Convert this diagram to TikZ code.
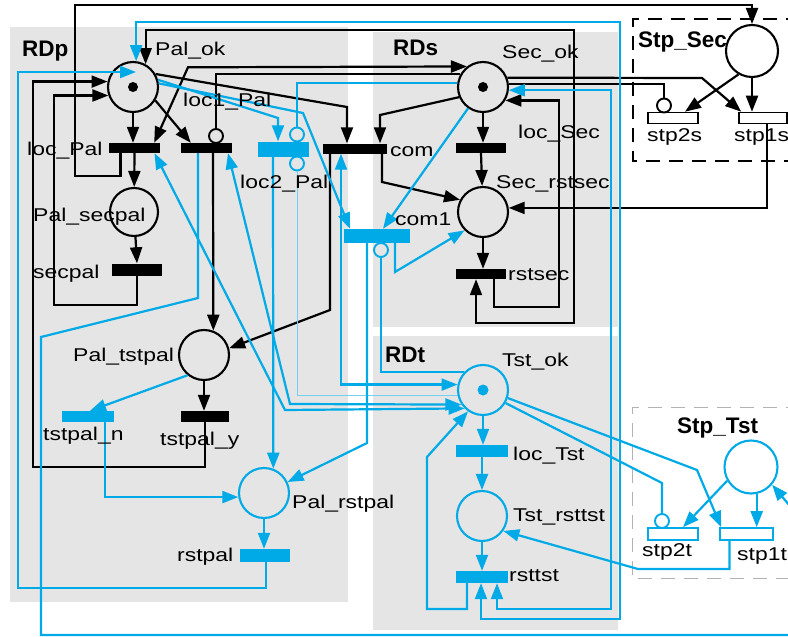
\documentclass[tikz,border=0pt]{standalone}
\usepackage{fontspec}
\setmainfont{Liberation Sans}
\newfontfamily\netfont{Liberation Sans}[FakeStretch=1.24]
\usetikzlibrary{arrows.meta,calc}
\definecolor{netblue}{RGB}{0,170,230}
\definecolor{zonegray}{RGB}{229,229,229}
\tikzset{
  place/.style={circle, draw, line width=2.1pt, minimum size=50pt, inner sep=0pt},
  bar/.style={rectangle, fill, inner sep=0pt, minimum width=51pt, minimum height=10pt},
  stpbar/.style={rectangle, draw, fill=white, line width=1.6pt, inner sep=0pt, minimum width=50pt, minimum height=11pt},
  inhib/.style={circle, draw, line width=1.9pt, minimum size=14pt, inner sep=0pt},
  lbl/.style={anchor=base west, inner sep=0pt, font=\netfont\fontsize{18.5}{20}\selectfont},
  zone/.style={anchor=base west, inner sep=0pt, font=\bfseries\fontsize{22.5}{24}\selectfont},
  arc/.style={line width=2.2pt},
  barc/.style={line width=2.2pt, draw=netblue},
  thinblue/.style={line width=0.9pt, draw=netblue!55},
}
\begin{document}
\begin{tikzpicture}[x=1pt, y=-1pt, >={Triangle[length=16pt,width=12pt]}]
  \useasboundingbox (0,0) rectangle (788,637);

  % zones
  \fill[zonegray] (10,27) rectangle (348,602);
  \fill[zonegray] (373,32) rectangle (618,327);
  \fill[zonegray] (373,336) rectangle (618,630);
  \draw[line width=2.2pt, dash pattern=on 14pt off 9pt] (800,19) -- (633,19) -- (633,161) -- (800,161);
  \draw[gray!60, line width=0.9pt, dash pattern=on 14pt off 9pt] (800,407) -- (632,407) -- (632,578) -- (800,578);

  % places
  \node[place] (palok) at (133,87) {};
  \node[place] (secok) at (483,87) {};
  \node[place, minimum size=52pt] (stpsecp) at (752,51) {};
  \node[place, minimum size=48pt] (palsecpal) at (134,212) {};
  \node[place] (secrstsec) at (483,212) {};
  \node[place] (paltstpal) at (204,355) {};
  \node[place, draw=netblue] (tstok) at (483,390) {};
  \node[place, draw=netblue] (palrstpal) at (264,493) {};
  \node[place, draw=netblue] (tstrsttst) at (482,516) {};
  \node[place, draw=netblue, minimum size=53pt] (stptstp) at (751,467) {};

  % tokens
  \fill (palok) circle (5pt);
  \fill (secok) circle (5pt);
  \fill[netblue] (tstok) circle (5.5pt);

  % transitions
  \node[bar] (locpal) at (134.5,148) {};
  \node[bar] (loc1pal) at (206.5,148) {};
  \node[bar, fill=netblue, minimum height=15pt] (loc2pal) at (283.5,149) {};
  \node[bar, minimum width=64pt] (com) at (355,148.5) {};
  \node[bar, minimum width=50pt] (locsec) at (481,148) {};
  \node[bar, minimum width=50pt, minimum height=12pt] (secpal) at (137,269.5) {};
  \node[bar, fill=netblue, minimum width=66pt, minimum height=14pt] (com1) at (377,236) {};
  \node[bar, minimum width=50pt] (rstsec) at (481,274) {};
  \node[bar, fill=netblue, minimum width=52pt, minimum height=11pt] (tstpaln) at (88,416.5) {};
  \node[bar, minimum width=48pt, minimum height=11pt] (tstpaly) at (205,416.5) {};
  \node[bar, fill=netblue, minimum width=50pt, minimum height=13pt] (rstpal) at (265,555.5) {};
  \node[bar, fill=netblue, minimum width=52pt, minimum height=12pt] (loctst) at (482,451) {};
  \node[bar, fill=netblue, minimum width=52pt, minimum height=12pt] (rsttst) at (482,577) {};
  \node[stpbar] (stp2s) at (673,118) {};
  \node[stpbar, minimum width=48pt] (stp1s) at (763,118) {};
  \node[stpbar, draw=netblue, minimum height=12pt] (stp2t) at (673,534) {};
  \node[stpbar, draw=netblue, minimum width=53pt, minimum height=12pt] (stp1t) at (746.5,534) {};

  % inhibitor ends
  \node[inhib] (inhl1) at (216,136) {};
  \node[inhib, draw=netblue] (inhl2a) at (297,134.5) {};
  \node[inhib, draw=netblue] (inhl2b) at (297,163.5) {};
  \node[inhib, draw=netblue] (inhc1) at (381,250) {};
  \node[inhib] (inhs2) at (664,105.5) {};
  \node[inhib, draw=netblue] (inht2) at (662,521) {};

  % black arcs
  \draw[arc,->] (palok) -- (palok |- locpal.north);
  \draw[arc,->] (locpal.south) -- (palsecpal);
  \draw[arc,->] (palsecpal) -- (secpal.north);
  \draw[arc,->] (secpal.south) |- (54,305) |- (palok.199);
  \draw[arc,->] (tstpaly.south) |- (33,467) |- (palok.168);
  \draw[arc,->] ([xshift=-14pt]locpal.south) |- (75,176) -- (75,5) -| (stpsecp.north);
  \draw[arc,->] (palok.-31) -- ([xshift=10pt]loc1pal.north west);
  \draw[arc,<->] ([xshift=-6pt]locpal.north east) -- (188,67.3) -- (secok.128);
  \draw[arc] (secok.151) -| (inhl1.north);
  \draw[arc,->] (palok.30) -- (347,107) -- ([xshift=-8pt]com.north);
  \draw[arc,->] (secok.203) -- (380,115) -- ([xshift=25pt]com.north);
  \draw[arc,->] ([xshift=27pt]com.south) -- (382,182) -- (secrstsec.152);
  \draw[arc,->] ([xshift=-25pt]com.south) -- (330,310) -- (paltstpal.15);
  \draw[arc,->] ([xshift=6.5pt]loc1pal.south) -- (paltstpal.69);
  \draw[arc,->] (paltstpal) -- (paltstpal |- tstpaly.north);
  \draw[arc,->] (secok) -- (secok |- locsec.north);
  \draw[arc,->] (locsec.south) -- (secrstsec);
  \draw[arc,->] (secrstsec) -- (secrstsec |- rstsec.north);
  \draw[arc,->] ([xshift=13pt]rstsec.south) |- (559,307) |- (secok.-31);
  \draw[arc,<->] (palok.61) |- (574,30) |- (476,323) -- ([xshift=-5pt]rstsec.south);
  \draw[arc,->] (secok.21) -- (702,78) -- ([xshift=3pt]stp1s.north west);
  \draw[arc] (secok.7) -| (inhs2.north);
  \draw[arc,->] (stpsecp.240) -- ([xshift=12pt]stp2s.north);
  \draw[arc,->] (stpsecp) -- (stpsecp |- stp1s.north);
  \draw[arc,->] ([xshift=4pt]stp1s.south) |- (secrstsec.9);

  % blue arcs
  \draw[barc,->] (palok.16) -- (278,118) -- ([xshift=-5.5pt]loc2pal.north);
  \draw[barc,->] (palok.8) -- (303,113) -- ([xshift=-27pt]com1.north);
  \draw[barc] (secok.171) -| (inhl2a.north);
  \draw[thinblue] (inhl2b.south) |- (tstok.191);
  \draw[barc,->] ([xshift=-10.5pt]loc2pal.south) -- (palrstpal.69);
  \draw[barc,->] (secok.235) -- ([xshift=6pt]com1.north);
  \draw[barc] (inhc1.south) |- (tstok.137);
  \draw[barc,->] ([xshift=-10pt]com1.south) -- (367,443) -- (palrstpal.25);
  \draw[barc,->] ([xshift=18pt]com1.south) -- (395,272) -- (secrstsec.225);
  \draw[barc,<->] ([xshift=-14pt]com.south) |- (tstok.168);
  \draw[barc,<->] ([xshift=21.5pt]loc1pal.south) -- (290,404) -- (tstok.214);
  \draw[barc,<->] ([xshift=20pt]locpal.south) -- (285,410) -- (tstok.225);
  \draw[barc,->] ([xshift=-15pt]rsttst.south) |- (427,609) -- (427,457) -- (tstok.235);
  \draw[barc,<->] (palok.83) |- (620,22) |- (481,619) -- ([xshift=-1pt]rsttst.south);
  \draw[barc,<->] (secok.-7) -| (611,609) -| ([xshift=15pt]rsttst.south);
  \draw[barc,->] (tstok) -- (tstok |- loctst.north);
  \draw[barc,->] (loctst.south) -- (tstrsttst);
  \draw[barc,->] (tstrsttst) -- (tstrsttst |- rsttst.north);
  \draw[barc,->] (tstok.-18) -- (697,470) -- ([xshift=2pt]stp1t.north west);
  \draw[barc] (tstok.-30) -- (662,483) -- (inht2.north);
  \draw[barc,->] (stptstp.210) -- ([xshift=10pt]stp2t.north);
  \draw[barc,->] (stptstp.-78) -- (stptstp.-78 |- stp1t.north);
  \draw[barc,->] ([xshift=-17pt]stp1t.south) |- (638,569) -- (tstrsttst.-35);
  \draw[barc,->] ([xshift=-8.5pt]loc1pal.south) -- (198,298) -- (41,337) -- (41,635) -- (795,635) -- (795,512) -- (stptstp.-40);
  \draw[barc,->] (paltstpal.231) -- ([xshift=2pt]tstpaln.north);
  \draw[barc,->] ([xshift=17pt]tstpaln.south) |- (palrstpal.189);
  \draw[barc,->] (palrstpal) -- (palrstpal |- rstpal.north);
  \draw[barc,->] ([xshift=1pt]rstpal.south) |- (18,588) |- ($(palok.center)+(3,-15)$);

  % labels
  \node[zone] (tRDp) at (22,56.7) {RDp};
  \node[zone] (tRDs) at (393,55.3) {RDs};
  \node[zone] (tRDt) at (385,362) {RDt};
  \node[zone] (tStpSec) at (638,47.7) {Stp\_Sec};
  \node[zone] (tStpTst) at (677,433) {Stp\_Tst};
  \node[lbl] (lpalok) at (155,56) {Pal\_ok};
  \node[lbl] (llocpal) at (27,155.5) {loc\_Pal};
  \node[lbl] (lloc1pal) at (183,106.5) {loc1\_Pal};
  \node[lbl] (lloc2pal) at (240,188.5) {loc2\_Pal};
  \node[lbl] (lcom) at (390,156) {com};
  \node[lbl] (lsecok) at (502,58.3) {Sec\_ok};
  \node[lbl] (llocsec) at (518,138.3) {loc\_Sec};
  \node[lbl] (lsecrstsec) at (496,188.3) {Sec\_rstsec};
  \node[lbl] (lcom1) at (395,225.3) {com1};
  \node[lbl] (lrstsec) at (508,280) {rstsec};
  \node[lbl] (lstp2s) at (647,141) {stp2s};
  \node[lbl] (lstp1s) at (734,141) {stp1s};
  \node[lbl] (lpalsecpal) at (33,221.3) {Pal\_secpal};
  \node[lbl] (lsecpal) at (33,278.5) {secpal};
  \node[lbl] (lpaltstpal) at (73,361.3) {Pal\_tstpal};
  \node[lbl] (ltstpaln) at (43,440) {tstpal\_n};
  \node[lbl] (ltstpaly) at (160,445.5) {tstpal\_y};
  \node[lbl] (ltstok) at (502,366.3) {Tst\_ok};
  \node[lbl] (lpalrstpal) at (292,508.3) {Pal\_rstpal};
  \node[lbl] (lrstpal) at (177,561) {rstpal};
  \node[lbl] (lloctst) at (513,460.3) {loc\_Tst};
  \node[lbl] (ltstrsttst) at (513,521.3) {Tst\_rsttst};
  \node[lbl] (lrsttst) at (509,581.3) {rsttst};
  \node[lbl] (lstp2t) at (642,556) {stp2t};
  \node[lbl] (lstp1t) at (737,560) {stp1t};
\end{tikzpicture}
\end{document}
